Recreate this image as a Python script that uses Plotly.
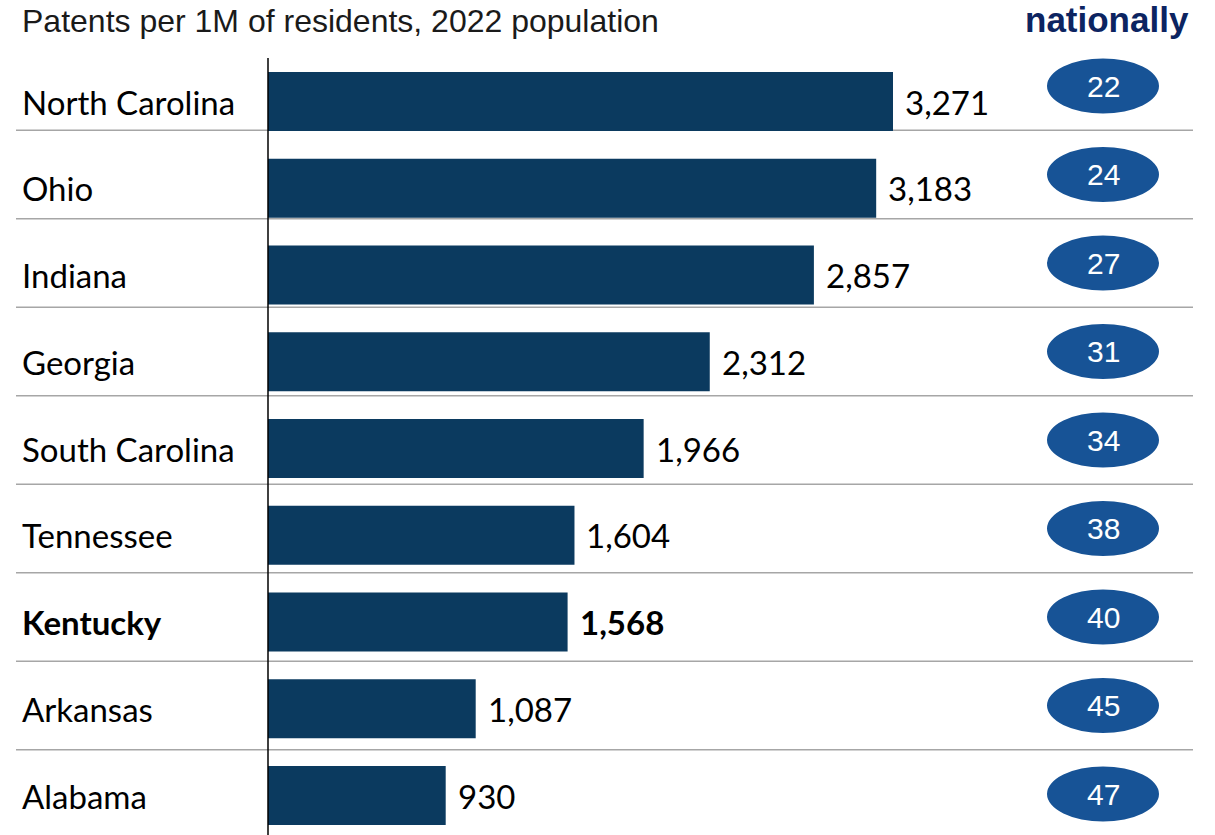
import plotly.graph_objects as go

# Data
states = ["North Carolina", "Ohio", "Indiana", "Georgia", "South Carolina",
          "Tennessee", "Kentucky", "Arkansas", "Alabama"]
patents_per_1m = [3271, 3183, 2857, 2312, 1966, 1604, 1568, 1087, 930]
national_rank = [22, 24, 27, 31, 34, 38, 40, 45, 47]
highlight = "Kentucky"

title_text = "Patents per 1M of residents, 2022 population"
rank_header = "nationally"

# Styling
W, H = 1215, 835
BAR_COLOR = "#0b3a5f"
PILL_COLOR = "#175396"
SEP_COLOR = "#a6a6a6"
LABEL_FONT = "Lato, 'Open Sans', sans-serif"
ARIAL = "'Liberation Sans', Arial, sans-serif"

AXIS_X_PX = 268          # pixel where the value axis starts
PX_PER_UNIT = 625 / 3271  # horizontal scale of the bars

x_min = -AXIS_X_PX / PX_PER_UNIT
x_max = (W - AXIS_X_PX) / PX_PER_UNIT

# bar rows: first centre at 101.5px, pitch 86.75px
bar_c0, bar_pitch = 101.5, 86.75
y_range = [(H - bar_c0) / bar_pitch, -bar_c0 / bar_pitch]
# rank/separator rows: first centre at 86px, pitch 88.5px
rk_c0, rk_pitch = 86.0, 88.5
y2_range = [(H - rk_c0) / rk_pitch, -rk_c0 / rk_pitch]

idx = list(range(len(states)))

fig = go.Figure()
fig.add_trace(go.Bar(
    x=patents_per_1m, y=idx, orientation="h",
    marker=dict(color=BAR_COLOR, line=dict(width=0)),
    width=59 / bar_pitch, hoverinfo="skip", showlegend=False,
))
# invisible trace to activate the secondary y axis
fig.add_trace(go.Scatter(x=[0] * len(idx), y=idx, yaxis="y2", mode="markers",
                         marker=dict(opacity=0), hoverinfo="skip", showlegend=False))

shapes = []
annotations = []

# value axis line
shapes.append(dict(type="line", xref="x", yref="paper", x0=0, x1=0,
                   y0=0, y1=1 - 58 / H, line=dict(color="black", width=1.5)))

for i, (s, v, r) in enumerate(zip(states, patents_per_1m, national_rank)):
    bold = s == highlight
    # state name
    annotations.append(dict(
        xref="paper", yref="y", x=20 / W, y=i, xanchor="left", yanchor="middle",
        text=f"<b>{s}</b>" if bold else s, showarrow=False,
        font=dict(family=LABEL_FONT, size=33, color="black")))
    # value label
    annotations.append(dict(
        xref="x", yref="y", x=v, y=i, xanchor="left", yanchor="middle", xshift=10,
        text=f"<b>{v:,}</b>" if bold else f"{v:,}", showarrow=False,
        font=dict(family=LABEL_FONT, size=33, color="black")))
    # rank pill
    shapes.append(dict(type="circle", xref="paper", yref="y2",
                       x0=1047 / W, x1=1159 / W, y0=i - 27.5 / rk_pitch, y1=i + 27.5 / rk_pitch,
                       fillcolor=PILL_COLOR, line=dict(width=0)))
    annotations.append(dict(
        xref="paper", yref="y2", x=1103 / W, y=i, xanchor="center", yanchor="middle",
        text=str(r), showarrow=False, font=dict(family=ARIAL, size=30, color="white")))
    # row separator
    if i < len(states) - 1:
        shapes.append(dict(type="line", xref="paper", yref="y2",
                           x0=16 / W, x1=1193 / W, y0=i + 0.5, y1=i + 0.5,
                           line=dict(color=SEP_COLOR, width=1.5), layer="below"))

annotations.append(dict(
    xref="paper", yref="paper", x=20 / W, y=1 - 21 / H, xanchor="left", yanchor="middle",
    text=title_text, showarrow=False, font=dict(family=ARIAL, size=32, color="#1a1a1a")))
annotations.append(dict(
    xref="paper", yref="paper", x=1191 / W, y=1 - 20 / H, xanchor="right", yanchor="middle",
    text=f"<b>{rank_header}</b>", showarrow=False,
    font=dict(family=ARIAL, size=35, color="#0c2461")))

fig.update_layout(
    width=W, height=H, margin=dict(l=0, r=0, t=0, b=0),
    paper_bgcolor="white", plot_bgcolor="white",
    xaxis=dict(range=[x_min, x_max], visible=False, fixedrange=True),
    yaxis=dict(range=y_range, visible=False, fixedrange=True),
    yaxis2=dict(range=y2_range, visible=False, overlaying="y", fixedrange=True),
    shapes=shapes, annotations=annotations,
)

fig.write_html("out.html")
